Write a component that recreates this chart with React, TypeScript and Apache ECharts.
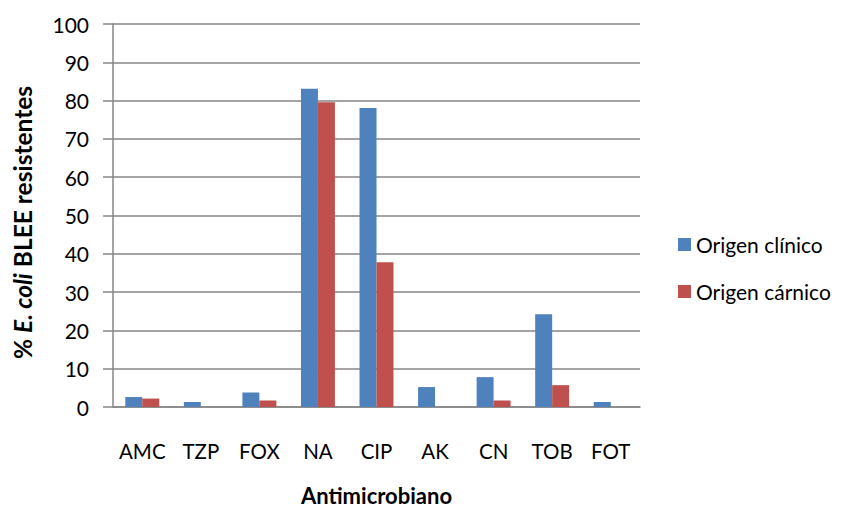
import React, { useEffect, useRef } from "react";
import * as echarts from "echarts";

// Antimicrobials tested
const categories = ["AMC", "TZP", "FOX", "NA", "CIP", "AK", "CN", "TOB", "FOT"];
// % of ESBL E. coli resistant, clinical origin
const clinico = [2.6, 1.3, 3.8, 83.1, 78.1, 5.2, 7.8, 24.2, 1.3];
// % of ESBL E. coli resistant, meat origin
const carnico = [2.2, 0, 1.7, 79.6, 37.8, 0, 1.7, 5.7, 0];
const seriesNames = ["Origen clínico", "Origen cárnico"];

const FONT = "Lato, 'Open Sans', sans-serif";
const GRAY = "#868686";

export default function App() {
  const ref = useRef<HTMLDivElement>(null);

  useEffect(() => {
    if (!ref.current) return;
    const chart = echarts.init(ref.current, undefined, { renderer: "svg" });
    chart.setOption({
      animation: false,
      backgroundColor: "#ffffff",
      textStyle: { fontFamily: FONT },
      grid: { left: 113, right: 205, top: 24, bottom: 100, outerBoundsMode: "none" },
      legend: {
        orient: "vertical",
        left: 673,
        top: 229,
        itemWidth: 13,
        itemHeight: 13,
        itemGap: 26,
        icon: "rect",
        textStyle: { fontFamily: FONT, fontSize: 21, color: "#000" },
        data: seriesNames,
      },
      xAxis: {
        type: "category",
        data: categories,
        name: "Antimicrobiano",
        nameLocation: "middle",
        nameGap: 77,
        nameTextStyle: { fontFamily: FONT, fontSize: 22, fontWeight: "bold", color: "#000" },
        axisLine: { lineStyle: { color: GRAY, width: 1.5 } },
        axisTick: { show: false },
        axisLabel: { interval: 0, fontFamily: FONT, fontSize: 20.5, color: "#000", margin: 33 },
      },
      yAxis: {
        type: "value",
        min: 0,
        max: 100,
        interval: 10,
        name: "{b|% }{bi|E. coli}{b| BLEE resistentes}",
        nameLocation: "middle",
        nameRotate: 90,
        nameGap: 78,
        nameTextStyle: {
          padding: [0, 14, 0, 0],
          rich: {
            b: { fontFamily: FONT, fontSize: 24.5, fontWeight: "bold", color: "#000" },
            bi: { fontFamily: FONT, fontSize: 24.5, fontWeight: "bold", fontStyle: "italic", color: "#000" },
          },
        },
        axisLine: { show: true, lineStyle: { color: GRAY, width: 1.5 } },
        axisTick: { show: true, length: 10, lineStyle: { color: GRAY, width: 1.5 } },
        splitLine: { lineStyle: { color: GRAY, width: 1.5 } },
        axisLabel: { fontFamily: FONT, fontSize: 21, color: "#000", margin: 24 },
      },
      series: [
        {
          name: seriesNames[0],
          type: "bar",
          data: clinico,
          itemStyle: { color: "#4F81BD" },
          barGap: "0%",
          barCategoryGap: "42%",
        },
        {
          name: seriesNames[1],
          type: "bar",
          data: carnico,
          itemStyle: { color: "#C0504D" },
          barGap: "0%",
          barCategoryGap: "42%",
        },
      ],
    });
    return () => chart.dispose();
  }, []);

  return <div ref={ref} style={{ width: 845, height: 507, position: "absolute", left: 0, top: 0 }} />;
}
